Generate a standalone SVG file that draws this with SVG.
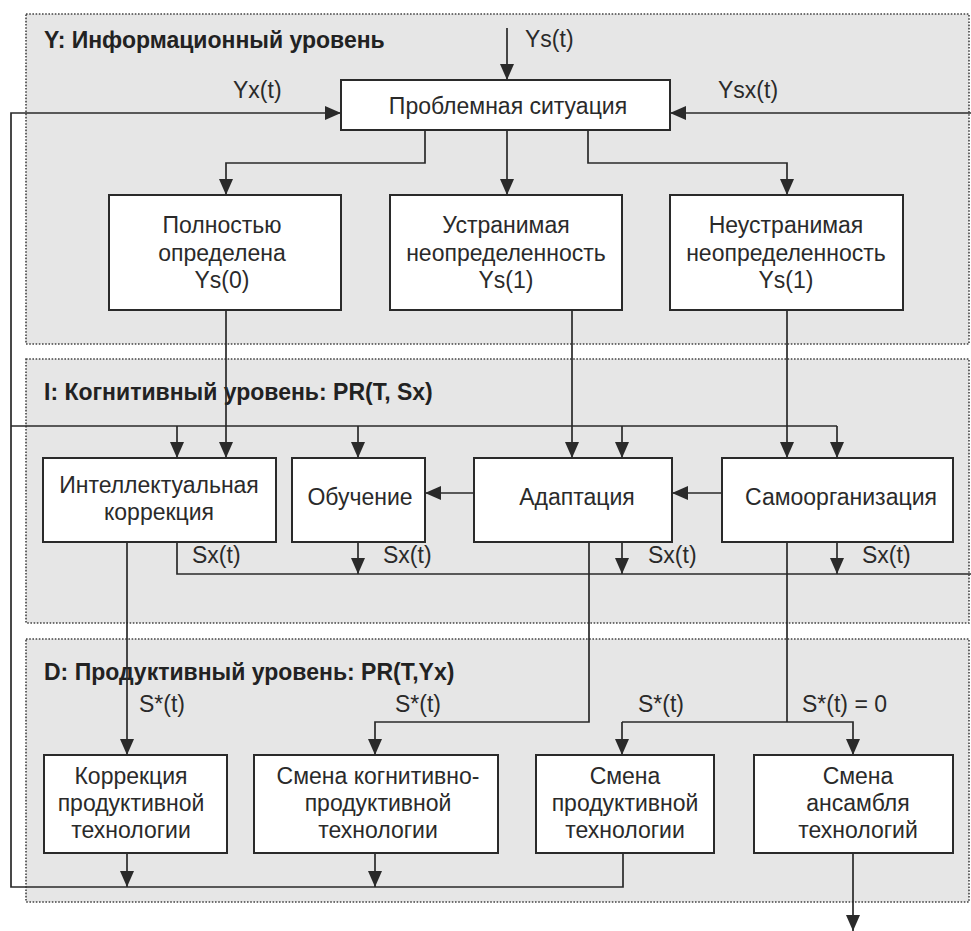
<svg xmlns="http://www.w3.org/2000/svg" width="971" height="931" viewBox="0 0 971 931">
<style>
.panel{fill:#e6e6e6;stroke:#444;stroke-width:1.6;stroke-dasharray:1.6 1.6}
.box{fill:#fff;stroke:#2a2a2a;stroke-width:2}
.t{font-family:"Liberation Sans",Arial,sans-serif;font-size:23px;fill:#2a2a2a;text-anchor:middle}
.h{font-family:"Liberation Sans",Arial,sans-serif;font-size:23px;font-weight:bold;fill:#222}
.lbl{font-family:"Liberation Sans",Arial,sans-serif;font-size:23px;fill:#2a2a2a}
.c path{fill:none;stroke:#2a2a2a;stroke-width:1.7}
.c path.a{marker-end:url(#ah)}
</style>
<defs>
<marker id="ah" markerUnits="userSpaceOnUse" markerWidth="16" markerHeight="14" viewBox="0 0 16 14" refX="16" refY="7" orient="auto">
<path d="M0,0 L16,7 L0,14 z" fill="#2a2a2a"/>
</marker>
</defs>
<rect width="971" height="931" fill="#fff"/>
<g id="panel-Y"><rect class="panel" x="26" y="14" width="943" height="330"/><text class="h" x="44" y="48">Y: Информационный уровень</text></g>
<g id="panel-I"><rect class="panel" x="26" y="359" width="943" height="264"/><text class="h" x="44" y="400">I: Когнитивный уровень: PR(T, Sx)</text></g>
<g id="panel-D"><rect class="panel" x="26" y="639" width="943" height="263"/><text class="h" x="44" y="680">D: Продуктивный уровень: PR(T,Yx)</text></g>

<g class="c" id="connectors">
<path class="a" d="M507,28 V80"/>
<path class="a" d="M623,853 V887 H11 V113 H341"/>
<path class="a" d="M971,113 H670"/>
<path class="a" d="M425,130 V163 H226 V195"/>
<path class="a" d="M507,130 V195"/>
<path class="a" d="M588,130 V163 H787 V195"/>
<path class="a" d="M226,310 V458"/>
<path class="a" d="M572,310 V458"/>
<path class="a" d="M787,310 V458"/>
<path d="M11,426 H837"/>
<path class="a" d="M177,426 V458"/>
<path class="a" d="M358,426 V458"/>
<path class="a" d="M622,426 V458"/>
<path class="a" d="M837,426 V458"/>
<path class="a" d="M474,493 H425"/>
<path class="a" d="M722,493 H672"/>
<path d="M177,542 V574 H971"/>
<path class="a" d="M358,542 V574"/>
<path class="a" d="M622,542 V574"/>
<path class="a" d="M837,542 V574"/>
<path class="a" d="M127,542 V755"/>
<path class="a" d="M589,542 V722 H375 V755"/>
<path d="M787,542 V722"/>
<path class="a" d="M622,722 H853 V755"/>
<path class="a" d="M622,722 V755"/>
<path class="a" d="M127,853 V887"/>
<path class="a" d="M375,853 V887"/>
<path class="a" d="M853,853 V931"/>
</g>

<g id="labels">
<text class="lbl" x="525" y="47">Ys(t)</text>
<text class="lbl" x="233" y="98">Yx(t)</text>
<text class="lbl" x="718" y="98">Ysx(t)</text>
<text class="lbl" x="192" y="563">Sx(t)</text>
<text class="lbl" x="383" y="563">Sx(t)</text>
<text class="lbl" x="648" y="563">Sx(t)</text>
<text class="lbl" x="862" y="563">Sx(t)</text>
<text class="lbl" x="139" y="712">S*(t)</text>
<text class="lbl" x="395" y="712">S*(t)</text>
<text class="lbl" x="638" y="712">S*(t)</text>
<text class="lbl" x="802" y="712">S*(t) = 0</text>
</g>

<g id="n-problem"><rect class="box" x="341" y="80" width="329" height="50"/><text class="t" x="508" y="114">Проблемная ситуация</text></g>
<g id="n-full"><rect class="box" x="109" y="195" width="232" height="115"/><text class="t" x="222" y="233">Полностью</text><text class="t" x="222" y="261">определена</text><text class="t" x="222" y="288">Ys(0)</text></g>
<g id="n-removable"><rect class="box" x="390" y="195" width="232" height="115"/><text class="t" x="506" y="233">Устранимая</text><text class="t" x="506" y="261">неопределенность</text><text class="t" x="506" y="288">Ys(1)</text></g>
<g id="n-irremovable"><rect class="box" x="670" y="195" width="233" height="115"/><text class="t" x="786" y="233">Неустранимая</text><text class="t" x="786" y="261">неопределенность</text><text class="t" x="786" y="288">Ys(1)</text></g>

<g id="n-intel"><rect class="box" x="43" y="458" width="233" height="84"/><text class="t" x="159" y="493">Интеллектуальная</text><text class="t" x="159" y="520">коррекция</text></g>
<g id="n-learn"><rect class="box" x="292" y="458" width="133" height="84"/><text class="t" x="360" y="505">Обучение</text></g>
<g id="n-adapt"><rect class="box" x="474" y="458" width="198" height="84"/><text class="t" x="577" y="505">Адаптация</text></g>
<g id="n-selforg"><rect class="box" x="722" y="458" width="231" height="84"/><text class="t" x="841" y="505">Самоорганизация</text></g>

<g id="n-corr"><rect class="box" x="44" y="755" width="183" height="98"/><text class="t" x="131" y="784">Коррекция</text><text class="t" x="131" y="811">продуктивной</text><text class="t" x="131" y="838">технологии</text></g>
<g id="n-cogchange"><rect class="box" x="254" y="755" width="244" height="98"/><text class="t" x="378" y="784">Смена когнитивно-</text><text class="t" x="378" y="811">продуктивной</text><text class="t" x="378" y="838">технологии</text></g>
<g id="n-prodchange"><rect class="box" x="536" y="755" width="178" height="98"/><text class="t" x="625" y="784">Смена</text><text class="t" x="625" y="811">продуктивной</text><text class="t" x="625" y="838">технологии</text></g>
<g id="n-ensemble"><rect class="box" x="754" y="755" width="199" height="98"/><text class="t" x="858" y="784">Смена</text><text class="t" x="858" y="811">ансамбля</text><text class="t" x="858" y="838">технологий</text></g>
</svg>
